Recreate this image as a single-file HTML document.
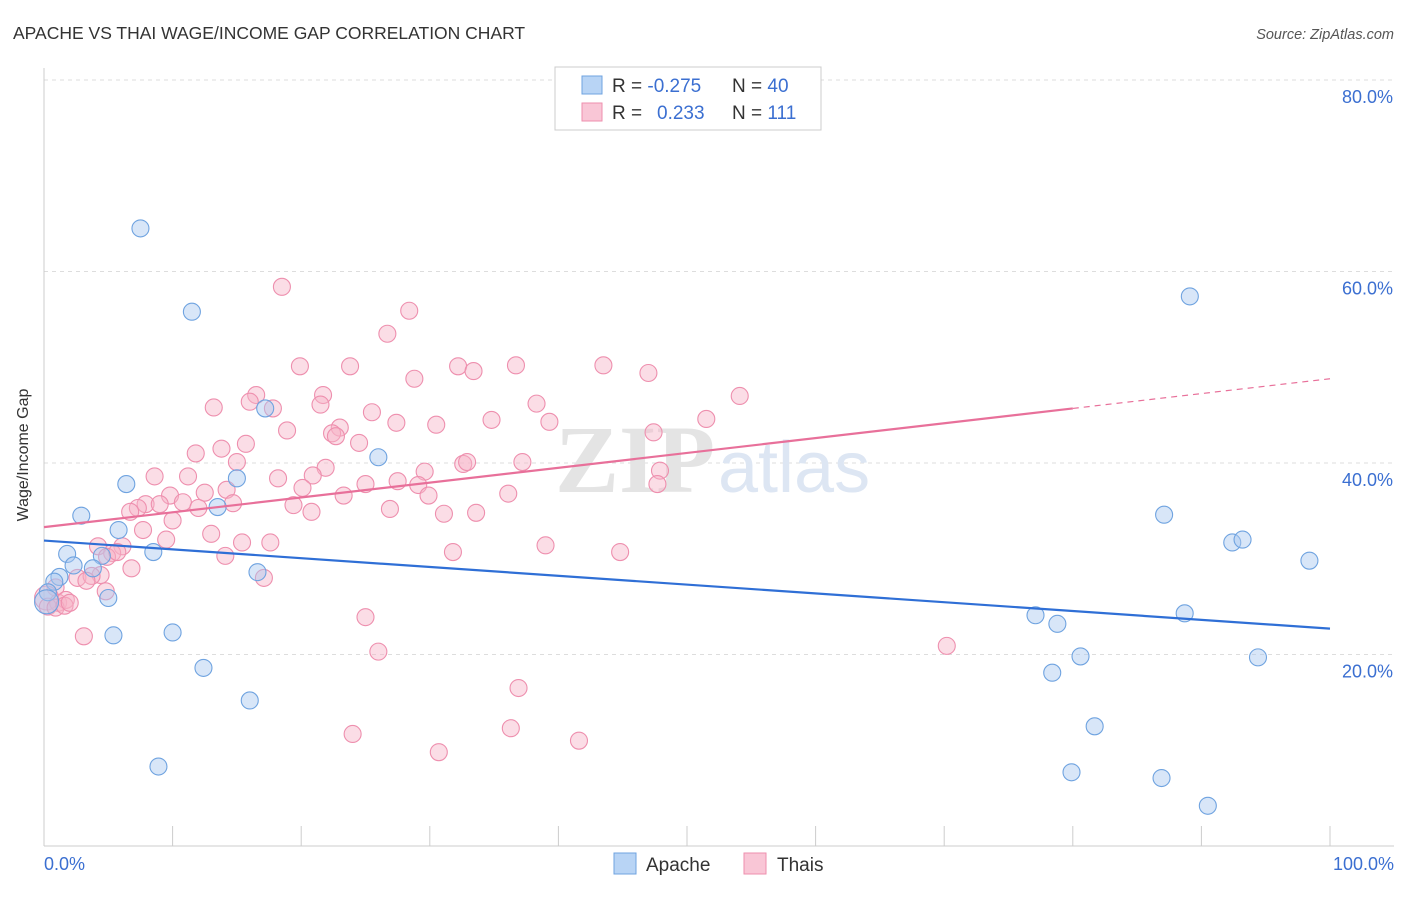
<!DOCTYPE html>
<html><head><meta charset="utf-8"><style>
body{margin:0;background:#fff;font-family:"Liberation Sans",sans-serif;}
</style></head><body>
<svg width="1406" height="892" xmlns="http://www.w3.org/2000/svg">
<text x="13" y="39" font-size="17.5" fill="#333">APACHE VS THAI WAGE/INCOME GAP CORRELATION CHART</text>
<text x="1394" y="39" font-size="14.5" fill="#555" font-style="italic" text-anchor="end">Source: ZipAtlas.com</text>
<g id="grid"></g>
<g>
<text x="555" y="492" font-size="96" font-family="Liberation Serif,serif" font-weight="bold" fill="#e4e4e4">ZIP</text>
<text x="718" y="492" font-size="72" fill="#dde6f3">atlas</text>
</g>
<g id="axes"></g>
<g id="pts"></g>
<g id="trends"></g>
<text x="28" y="455" font-size="16" fill="#333" text-anchor="middle" transform="rotate(-90 28 455)">Wage/Income Gap</text>
<g>
<rect x="555" y="67" width="266" height="63" fill="#fff" stroke="#ccc"/>
<rect x="582" y="76" width="20" height="18" fill="#b8d4f5" stroke="#6fa3e0"/>
<rect x="582" y="103" width="20" height="18" fill="#f9c6d6" stroke="#ee8fae"/>
<text x="612" y="92" font-size="19" fill="#333">R = <tspan fill="#3b6fd1">-0.275</tspan><tspan x="732">N = </tspan><tspan fill="#3b6fd1">40</tspan></text>
<text x="612" y="119" font-size="19" fill="#333">R = <tspan x="657" fill="#3b6fd1">0.233</tspan><tspan x="732">N = </tspan><tspan fill="#3b6fd1">111</tspan></text>
</g>
<g>
<rect x="614" y="853" width="22" height="21" fill="#b8d4f5" stroke="#6fa3e0"/>
<text x="646" y="871" font-size="19" fill="#333">Apache</text>
<rect x="744" y="853" width="22" height="21" fill="#f9c6d6" stroke="#ee8fae"/>
<text x="777" y="871" font-size="19" fill="#333">Thais</text>
</g>
</svg>
<script>
const apacheX=[7.5,11.5,17.2,26.0,6.4,15.0,2.9,13.5,5.8,1.8,8.5,4.5,2.3,3.8,1.2,0.8,0.3,0.2,5.0,16.6,5.4,10.0,12.4,16.0,8.9,89.1,87.1,92.4,93.2,98.4,77.1,78.8,88.7,80.6,94.4,78.4,81.7,79.9,86.9,90.5];
const apacheY=[64.5,55.8,45.7,40.6,37.8,38.4,34.5,35.4,33.0,30.5,30.7,30.3,29.3,29.0,28.1,27.6,26.5,25.5,25.9,28.6,22.0,22.3,18.6,15.2,8.3,57.4,34.6,31.7,32.0,29.8,24.1,23.2,24.3,19.8,19.7,18.1,12.5,7.7,7.1,4.2];
const thaiX=[18.5,28.4,26.7,19.9,23.8,32.2,33.4,36.7,43.5,47.0,28.8,16.5,21.7,13.2,16.0,17.8,21.5,38.3,25.5,54.1,51.5,34.8,30.5,27.4,18.9,23.0,39.3,11.8,13.8,15.7,22.4,22.7,24.5,47.4,15.0,32.6,32.9,37.2,29.6,21.9,20.9,8.6,11.2,18.2,27.5,29.1,47.9,47.7,14.2,12.5,20.1,23.3,36.1,29.9,25.0,9.8,10.8,7.9,9.0,7.3,12.0,14.7,19.4,26.9,31.1,33.6,6.7,10.0,20.8,7.7,13.0,15.4,17.6,9.5,4.2,6.1,5.3,14.1,4.9,5.7,31.8,39.0,44.8,6.8,4.4,2.6,3.7,3.3,17.1,0.9,0.2,1.1,1.7,0.3,0.9,1.6,2.0,4.8,3.1,25.0,26.0,70.2,36.9,24.0,36.3,30.7,41.6];
const thaiY=[58.4,55.9,53.5,50.1,50.1,50.1,49.6,50.2,50.2,49.4,48.8,47.1,47.1,45.8,46.4,45.7,46.1,46.2,45.3,47.0,44.6,44.5,44.0,44.2,43.4,43.7,44.3,41.0,41.5,42.0,43.1,42.8,42.1,43.2,40.1,39.9,40.1,40.1,39.1,39.5,38.7,38.6,38.6,38.4,38.1,37.7,39.2,37.8,37.2,36.9,37.4,36.6,36.8,36.6,37.8,36.6,35.9,35.7,35.7,35.3,35.3,35.8,35.6,35.2,34.7,34.8,34.9,34.0,34.9,33.0,32.6,31.7,31.7,32.0,31.3,31.3,30.6,30.3,30.2,30.7,30.7,31.4,30.7,29.0,28.3,28.0,28.2,27.7,28.0,27.0,25.9,25.4,25.7,25.0,24.9,25.1,25.4,26.6,21.9,23.9,20.3,20.9,16.5,11.7,12.3,9.8,11.0];
const yTicks=[20,40,60,80];
const yTickLabels=["20.0%","40.0%","60.0%","80.0%"];
const xTickLabels=["0.0%","100.0%"];
const apacheTrend=[31.9,22.7];
const thaiTrend=[33.3,48.8];
const thaiSolidEnd=80;

const NS="http://www.w3.org/2000/svg";
const X=v=>44+v*12.86, Y=v=>846-v*9.575;
function mk(tag,attrs,parent){const e=document.createElementNS(NS,tag);for(const k in attrs)e.setAttribute(k,attrs[k]);parent.appendChild(e);return e;}
const grid=document.getElementById('grid'),axes=document.getElementById('axes'),pts=document.getElementById('pts'),tr=document.getElementById('trends');
yTicks.forEach((t,i)=>{
 const l=mk('line',{x1:44,x2:1394,y1:Y(t),y2:Y(t),stroke:'#ddd','stroke-dasharray':'4,4'},grid);
 
 
 const tx=mk('text',{x:1393,y:Y(t)+23,'font-size':18,fill:'#3b6fd1','text-anchor':'end'},axes);
 tx.textContent=yTickLabels[i];
 
 
});
mk('line',{x1:44,x2:44,y1:68,y2:846,stroke:'#ccc'},axes);
mk('line',{x1:44,x2:1394,y1:846,y2:846,stroke:'#ccc'},axes);
for(let i=0;i<=10;i++){const t=mk('line',{x1:X(i*10),x2:X(i*10),y1:826,y2:846,stroke:'#ccc'},axes);
 
 }
[[0,'start',44],[1,'end',1394]].forEach(([i,a,x])=>{const tx=mk('text',{x:x,y:870,'font-size':18,fill:'#3b6fd1','text-anchor':a},axes);tx.textContent=xTickLabels[i];
 
 });
function drawPts(xs,ys,fill,stroke,name){xs.forEach((x,i)=>{
 const c=mk('circle',{cx:X(x),cy:Y(ys[i]),r:(x<0.5&&ys[i]<26.5&&ys[i]>25)?12:8.5,fill:fill,'fill-opacity':0.45,stroke:stroke,'stroke-width':1.1},pts);
 
 });}
drawPts(thaiX,thaiY,'#f7b3c8','#ee8fae','thais-point');
drawPts(apacheX,apacheY,'#a9c8f0','#6fa3e0','apache-point');
let l=mk('line',{x1:X(0),y1:Y(apacheTrend[0]),x2:X(100),y2:Y(apacheTrend[1]),stroke:'#2f6fd6','stroke-width':2.2},tr);


const tm=v=>thaiTrend[0]+(thaiTrend[1]-thaiTrend[0])*v/100;
l=mk('line',{x1:X(0),y1:Y(tm(0)),x2:X(thaiSolidEnd),y2:Y(tm(thaiSolidEnd)),stroke:'#e8709a','stroke-width':2.2},tr);


l=mk('line',{x1:X(thaiSolidEnd),y1:Y(tm(thaiSolidEnd)),x2:X(100),y2:Y(tm(100)),stroke:'#e8709a','stroke-width':1.2,'stroke-dasharray':'6,5'},tr);


</script>
</body></html>
